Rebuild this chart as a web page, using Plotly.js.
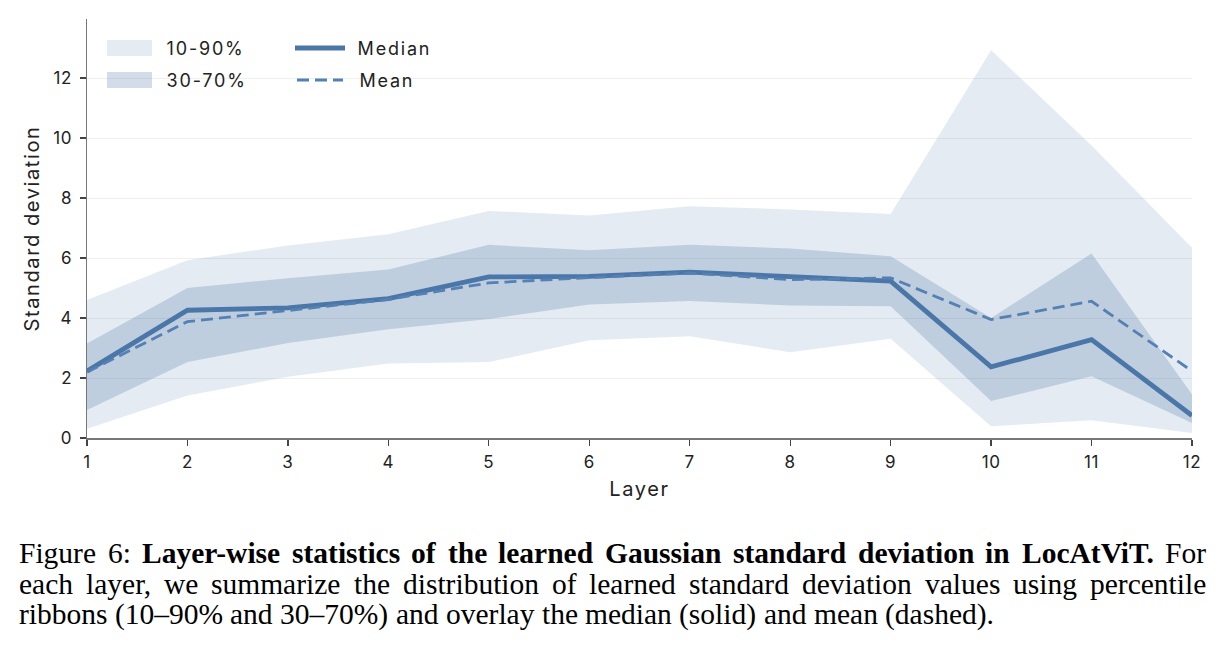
<!DOCTYPE html>
<html><head><meta charset="utf-8">
<script src="https://cdn.plot.ly/plotly-3.0.1.min.js"></script>
<style>
body{margin:0;background:#fff}
#chart{width:1221px;height:649px}
#chart .xtick text, #chart .ytick text{letter-spacing:0.6px}
#chart .g-xtitle text, #chart .g-ytitle text{letter-spacing:1.6px}
</style>
</head><body><div id="chart"></div>
<script>
// ---- data ----
const layers = [1,2,3,4,5,6,7,8,9,10,11,12];
const p10 = [0.31,1.42,2.04,2.48,2.53,3.26,3.39,2.86,3.31,0.39,0.59,0.17];
const p30 = [0.93,2.53,3.17,3.63,3.97,4.45,4.57,4.42,4.39,1.23,2.06,0.50];
const p70 = [3.15,5.00,5.33,5.62,6.44,6.26,6.44,6.32,6.06,4.00,6.15,1.45];
const p90 = [4.60,5.93,6.42,6.79,7.57,7.42,7.73,7.62,7.47,12.93,9.75,6.34];
const median = [2.23,4.26,4.34,4.65,5.37,5.39,5.53,5.37,5.23,2.37,3.28,0.75];
const mean = [2.20,3.88,4.25,4.62,5.17,5.35,5.50,5.28,5.34,3.95,4.56,2.23];
const seriesNames = ['10-90%','30-70%','Median','Mean'];
const xTitle = 'Layer';
const yTitle = 'Standard deviation';
const captionLines = [
  {justify:true, parts:[['Figure 6:',false],['Layer-wise statistics of the learned Gaussian standard deviation in LocAtViT.',true],['For',false]]},
  {justify:true, parts:[['each layer, we summarize the distribution of learned standard deviation values using percentile',false]]},
  {justify:false, parts:[['ribbons (10–90% and 30–70%) and overlay the median (solid) and mean (dashed).',false]]}
];

// ---- layout geometry ----
const W=1221, H=649, L=87, R=29, T=19, B=211;
const plotW = W-L-R, plotH = H-T-B;
const px2x = px => (px-L)/plotW;
const py2y = py => (H-B-py)/plotH;

const rev = a => a.slice().reverse();
const blue = '#4a76a8';
const meanBlue = '#5480b3';
const fill90 = 'rgba(74,118,168,0.15)';
const fill70 = 'rgba(74,118,168,0.25)';
const sans = 'Inter, sans-serif';

const traces = [
  {x: layers.concat(rev(layers)), y: p90.concat(rev(p10)), fill:'toself', mode:'lines',
   line:{width:0}, fillcolor:fill90, name:seriesNames[0], hoverinfo:'skip'},
  {x: layers.concat(rev(layers)), y: p70.concat(rev(p30)), fill:'toself', mode:'lines',
   line:{width:0}, fillcolor:fill70, name:seriesNames[1], hoverinfo:'skip'},
  {x: layers, y: median, mode:'lines', line:{color:blue, width:4.8}, name:seriesNames[2]},
  {x: layers, y: mean, mode:'lines', line:{color:meanBlue, width:2.8, dash:'12px,6px'}, name:seriesNames[3]}
];

// ---- legend (drawn as shapes + annotations) ----
const annotations = [];
const shapes = [];
const legRows = [48, 80];
[[fill90, seriesNames[0]], [fill70, seriesNames[1]]].forEach(([c, name], i) => {
  shapes.push({type:'rect', xref:'paper', yref:'paper', x0:px2x(107), x1:px2x(152),
    y0:py2y(legRows[i]-8), y1:py2y(legRows[i]+8), fillcolor:c, line:{width:0}});
  annotations.push({xref:'paper', yref:'paper', x:px2x(171), y:py2y(legRows[i]), xanchor:'left', yanchor:'middle',
    text:name, showarrow:false, borderpad:0, font:{family:sans, size:18, color:'#222'}});
});
shapes.push({type:'line', xref:'paper', yref:'paper', x0:px2x(295), x1:px2x(345), y0:py2y(legRows[0]), y1:py2y(legRows[0]),
  line:{color:blue, width:5}});
shapes.push({type:'line', xref:'paper', yref:'paper', x0:px2x(297), x1:px2x(343), y0:py2y(legRows[1]), y1:py2y(legRows[1]),
  line:{color:meanBlue, width:3, dash:'12px,6px'}});
[seriesNames[2], seriesNames[3]].forEach((name, i) => {
  annotations.push({xref:'paper', yref:'paper', x:px2x(362), y:py2y(legRows[i]), xanchor:'left', yanchor:'middle',
    text:name, showarrow:false, borderpad:0, font:{family:sans, size:18, color:'#222'}});
});

// ---- caption as word annotations (justified) ----
const capFont = 'Liberation Serif';
const canvas = document.createElement('canvas');
const ctx = canvas.getContext('2d');
function tw(t, bold, size){ctx.font=(bold?'bold ':'')+size+'px "'+capFont+'"'; return ctx.measureText(t).width;}
const capSize = 29.5;
const capLeft = 18, capRight = 1205;
const capY = [553, 584, 614];
captionLines.forEach((ln, i) => {
  const words = [];
  ln.parts.forEach(([t,b]) => t.split(' ').forEach(w => words.push([w,b])));
  const widths = words.map(([w,b]) => tw(w,b,capSize));
  const sumW = widths.reduce((a,b)=>a+b,0);
  const space = tw(' ',false,capSize);
  const gap = ln.justify ? (capRight-capLeft-sumW)/(words.length-1) : space;
  let x = capLeft;
  words.forEach(([w,b], k) => {
    annotations.push({xref:'paper', yref:'paper', x:px2x(x), y:py2y(capY[i]), xanchor:'left', yanchor:'middle',
      text: b ? '<b>'+w+'</b>' : w, showarrow:false, borderpad:0,
      font:{family:capFont, size:capSize, color:'#000'}});
    x += widths[k] + gap;
  });
});

const layout = {
  width:W, height:H, margin:{l:L, r:R, t:T, b:B}, paper_bgcolor:'#fff', plot_bgcolor:'#fff',
  font:{family:sans, color:'#222'},
  showlegend:false,
  xaxis:{range:[1,12], tickvals:layers, ticktext:layers.map(String), ticks:'outside', ticklen:6, tickwidth:1.2, tickcolor:'#444',
    ticklabelstandoff:2,
    showline:true, linecolor:'#777', linewidth:1.5, showgrid:false, zeroline:false,
    tickfont:{family:sans, size:17, color:'#222'},
    title:{text:xTitle, font:{family:sans, size:20, color:'#222'}, standoff:11}},
  yaxis:{range:[0,13.97], tick0:0, dtick:2, ticks:'outside', ticklen:6, tickwidth:1.2, tickcolor:'#444',
    ticklabelstandoff:4,
    showline:true, linecolor:'#777', linewidth:1.5, showgrid:true, gridcolor:'#efefef', gridwidth:1, zeroline:false,
    tickfont:{family:sans, size:17, color:'#222'},
    title:{text:yTitle, font:{family:sans, size:20, color:'#222'}, standoff:9}},
  shapes: shapes,
  annotations: annotations
};

Plotly.newPlot('chart', traces, layout, {displayModeBar:false, staticPlot:true}).then(gd => {
  const anns = gd.querySelectorAll('.annotation');
  for (let i = 0; i < 4 && i < anns.length; i++) {
    anns[i].querySelectorAll('text').forEach(t => t.style.letterSpacing = '1.8px');
  }
});
</script></body></html>
